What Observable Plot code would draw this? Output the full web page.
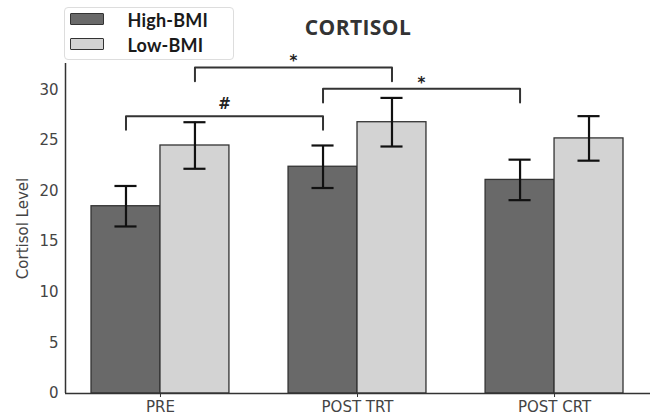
<!DOCTYPE html>
<html><head><meta charset="utf-8">
<script src="https://cdn.jsdelivr.net/npm/d3@7"></script>
<script src="https://cdn.jsdelivr.net/npm/@observablehq/plot@0.6"></script>
<style>
body{margin:0;background:#fff;}
#wrap{position:relative;width:650px;height:417px;overflow:hidden;}
#wrap svg text{font-family:"DejaVu Sans", sans-serif;}
#title{position:absolute;left:288px;width:140px;top:13px;line-height:20px;text-align:center;font:700 21px "Open Sans", sans-serif;letter-spacing:0.4px;color:#333;}
#legend{position:absolute;left:64px;top:7px;width:168px;height:51px;border:1.5px solid #ddd;border-radius:4px;background:#fff;}
.item{position:absolute;left:4.5px;height:14px;}
.sw{position:absolute;left:0;top:0;width:32px;height:10px;border:1.5px solid #333;border-radius:1px;}
.lb{position:absolute;left:58px;top:-3.5px;font:700 18px Lato, sans-serif;letter-spacing:0.2px;color:#1a1a1a;white-space:nowrap;line-height:20px;}
</style></head><body><div id="wrap"></div>
<script>
const categories = ["PRE", "POST TRT", "POST CRT"];
const groups = ["High-BMI", "Low-BMI"];
const groupColors = ["#696969", "#d3d3d3"];
const highMean = [18.5, 22.4, 21.1];
const highErr = [2.0, 2.1, 2.0];
const lowMean = [24.5, 26.8, 25.2];
const lowErr = [2.3, 2.4, 2.2];
const yTicks = [0, 5, 10, 15, 20, 25, 30];
const bracketLabels = ["#", "*", "*"];
const bracketFrom = [["PRE", "High-BMI"], ["PRE", "Low-BMI"], ["POST TRT", "High-BMI"]];
const bracketTo = [["POST TRT", "High-BMI"], ["POST TRT", "Low-BMI"], ["POST CRT", "High-BMI"]];
const bracketLevel = [27.4, 32.2, 30.1];

const BAR = 0.35;      // bar width in category units
const CAP = 0.056;     // half cap width
const LEG = 1.35;      // bracket leg length
const Y_TOP = 32.6;

const center = (cat, g) => categories.indexOf(cat) + (g === groups[0] ? -BAR / 2 : BAR / 2);

const rows = [];
categories.forEach((c, i) => {
  rows.push({cat: c, group: groups[0], mean: highMean[i], err: highErr[i]});
  rows.push({cat: c, group: groups[1], mean: lowMean[i], err: lowErr[i]});
});
rows.forEach(d => { d.xc = center(d.cat, d.group); });

const brPts = [];
const brText = [];
bracketLabels.forEach((lab, k) => {
  const a = center(...bracketFrom[k]), b = center(...bracketTo[k]), h = bracketLevel[k];
  brPts.push({k, x: a, y: h - LEG}, {k, x: a, y: h}, {k, x: b, y: h}, {k, x: b, y: h - LEG});
  brText.push({label: lab, x: (a + b) / 2, y: h});
});

const plot = Plot.plot({
  width: 650,
  height: 417,
  marginLeft: 65,
  marginRight: 0,
  marginTop: 63,
  marginBottom: 24,
  style: {fontFamily: "DejaVu Sans, sans-serif", fontSize: "15px", color: "#444", background: "#fff"},
  x: {type: "linear", domain: [-0.482, 2.487]},
  y: {domain: [0, Y_TOP]},
  color: {domain: groups, range: groupColors},
  marks: [
    Plot.rect(rows, {x1: d => d.xc - BAR / 2, x2: d => d.xc + BAR / 2, y1: 0, y2: "mean", fill: "group", stroke: "#333", strokeWidth: 1.3}),
    Plot.ruleX(rows, {x: "xc", y1: d => d.mean - d.err, y2: d => d.mean + d.err, stroke: "#111", strokeWidth: 2.2}),
    Plot.ruleY(rows, {y: d => d.mean + d.err, x1: d => d.xc - CAP, x2: d => d.xc + CAP, stroke: "#111", strokeWidth: 2.2}),
    Plot.ruleY(rows, {y: d => d.mean - d.err, x1: d => d.xc - CAP, x2: d => d.xc + CAP, stroke: "#111", strokeWidth: 2.2}),
    Plot.line(brPts, {x: "x", y: "y", z: "k", stroke: "#333", strokeWidth: 2, strokeLinejoin: "round"}),
    Plot.text(brText.filter(d => d.label === "#"), {x: "x", y: "y", text: "label", dy: -12, fontWeight: "bold", fontSize: 15, fill: "#222"}),
    Plot.text(brText.filter(d => d.label === "*"), {x: "x", y: "y", text: "label", dy: -6, fontWeight: "bold", fontSize: 15, fill: "#222"}),
    Plot.ruleX([-0.482], {y1: 0, y2: Y_TOP, stroke: "#333", strokeWidth: 1.5}),
    Plot.ruleY([0], {stroke: "#333", strokeWidth: 1.5}),
    Plot.axisY({ticks: yTicks, tickSize: 0, tickPadding: 7, fontSize: 15, label: "Cortisol Level", labelAnchor: "center", labelOffset: 48, labelArrow: "none", fill: "#444", color: "#444"}),
    Plot.axisX({ticks: [0, 1, 2], tickFormat: i => categories[i], tickSize: 4, tickPadding: 4, fontSize: 15, label: null, fill: "#444", stroke: "#333"})
  ]
});

const wrap = document.getElementById("wrap");
wrap.appendChild(plot);

const title = document.createElement("div");
title.id = "title";
title.textContent = "CORTISOL";
wrap.appendChild(title);

const legend = document.createElement("div");
legend.id = "legend";
groups.forEach((g, i) => {
  const it = document.createElement("div");
  it.className = "item";
  it.style.top = (5 + i * 25) + "px";
  const sw = document.createElement("div");
  sw.className = "sw";
  sw.style.background = groupColors[i];
  const lb = document.createElement("div");
  lb.className = "lb";
  lb.textContent = g;
  it.appendChild(sw); it.appendChild(lb);
  legend.appendChild(it);
});
wrap.appendChild(legend);
</script>
</body></html>
